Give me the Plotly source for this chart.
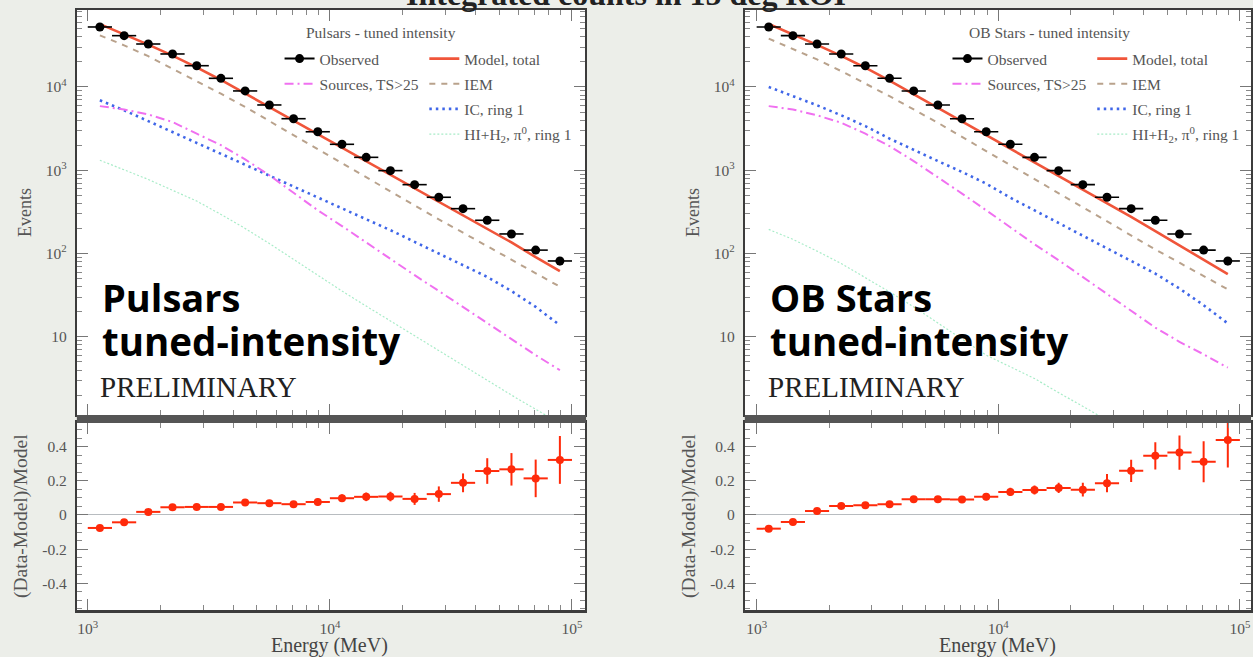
import plotly.graph_objects as go

W, H = 1253, 657

# ---------------- data ----------------
energy_edges = [1000, 1259, 1585, 1995, 2512, 3162, 3981, 5012, 6310, 7943, 10000,
                12589, 15849, 19953, 25119, 31623, 39811, 50119, 63096, 79433, 100000]
energy_mid = [1122, 1413, 1778, 2239, 2818, 3548, 4467, 5623, 7079, 8913, 11220,
              14125, 17783, 22387, 28184, 35481, 44668, 56234, 70795, 89125]

observed = [52500, 41300, 32800, 24900, 18000, 12700, 8960, 6080, 4160, 2900,
            2050, 1430, 990, 672, 474, 346, 251, 172, 110, 81.5]
observed_err = [230, 203, 181, 158, 134, 113, 95, 78, 64, 54,
                45, 38, 31, 26, 22, 19, 16, 13, 10.5, 9]

psr_model = [56800, 43200, 32200, 23800, 17200, 12130, 8350, 5690, 3910, 2695,
             1867, 1293, 894, 614, 422, 291, 200, 136, 90.6, 61.6]
psr_iem = [41700, 31600, 23400, 16600, 11700, 8300, 5750, 3890, 2630, 1780,
           1200, 813, 550, 372, 257, 178, 123, 85, 59, 40]
psr_sources = [5890, 5370, 4680, 3800, 2750, 2000, 1350, 871, 537, 331,
               214, 135, 87.1, 55.0, 35.5, 22.9, 14.8, 9.33, 6.03, 3.98]
psr_ic = [6920, 5250, 3890, 2880, 2140, 1580, 1150, 851, 631, 468,
          347, 257, 191, 138, 100, 72.4, 52.5, 35.5, 22.9, 13.8]
psr_gas = [1320, 1020, 776, 575, 427, 295, 200, 132, 85.1, 55.0,
           35.5, 23.4, 15.5, 10.2, 6.76, 4.47, 2.95, 2.0, 1.35, 0.91]
psr_resid = [-0.076, -0.043, 0.018, 0.045, 0.047, 0.047, 0.073, 0.069, 0.063, 0.076,
             0.098, 0.106, 0.108, 0.094, 0.122, 0.188, 0.257, 0.267, 0.214, 0.322]
psr_resid_err = [0.010, 0.010, 0.011, 0.012, 0.013, 0.014, 0.015, 0.016, 0.018, 0.020,
                 0.022, 0.025, 0.028, 0.035, 0.045, 0.055, 0.075, 0.095, 0.110, 0.140]

ob_model = [57070, 43070, 32060, 23650, 17030, 11950, 8205, 5568, 3817, 2620,
            1806, 1248, 855, 585, 400, 275, 186, 126, 83.9, 56.7]
ob_iem = [38000, 28800, 21400, 15500, 11000, 7760, 5370, 3720, 2510, 1700,
          1150, 776, 525, 355, 240, 166, 112, 77.6, 53.7, 37.2]
ob_sources = [5890, 5370, 4570, 3720, 2750, 1950, 1290, 832, 525, 331,
              204, 129, 83.2, 52.5, 33.1, 20.4, 12.9, 8.71, 6.17, 4.27]
ob_ic = [10000, 7760, 6030, 4570, 3390, 2400, 1740, 1290, 955, 692,
         468, 331, 234, 166, 117, 81.3, 57.5, 38.0, 24.0, 14.5]
ob_gas = [195, 148, 107, 75.9, 51.3, 34.7, 22.9, 14.8, 9.55, 6.03,
          4.37, 3.16, 2.14, 1.45, 1.0, 0.71, 0.50, 0.35, 0.25, 0.18]
ob_resid = [-0.080, -0.041, 0.023, 0.053, 0.057, 0.063, 0.092, 0.092, 0.090, 0.107,
            0.135, 0.146, 0.158, 0.148, 0.186, 0.258, 0.346, 0.365, 0.311, 0.438]
ob_resid_err = [0.010, 0.010, 0.011, 0.012, 0.013, 0.014, 0.015, 0.017, 0.019, 0.021,
                0.024, 0.027, 0.030, 0.040, 0.053, 0.065, 0.080, 0.100, 0.120, 0.160]

panel_titles = ["Pulsars - tuned intensity", "OB Stars - tuned intensity"]
big_labels = ["Pulsars", "OB Stars"]
y_tickvals = [10, 100, 1000, 10000]
y_ticktext = ["10", "10<sup>2</sup>", "10<sup>3</sup>", "10<sup>4</sup>"]
x_tickvals = [1000, 10000, 100000]
x_ticktext = ["10<sup>3</sup>", "10<sup>4</sup>", "10<sup>5</sup>"]
r_tickvals = [-0.4, -0.2, 0, 0.2, 0.4]
r_ticktext = ["-0.4", "-0.2", "0", "0.2", "0.4"]

# ---------------- styling ----------------
SERIF = "Liberation Serif, Times New Roman, serif"
C_MODEL = "#f0553a"
C_IEM = "#b9a28c"
C_SRC = "#f070f0"
C_IC = "#3f66e8"
C_GAS = "#a8ecc8"
C_RES = "#ff2a0a"
FRAME = "#3c3c3c"

xerr_plus = [energy_edges[i + 1] - energy_mid[i] for i in range(len(energy_mid))]
xerr_minus = [energy_mid[i] - energy_edges[i] for i in range(len(energy_mid))]


def px(x):
    return x / W


def py(y):
    return 1 - y / H


fig = go.Figure()

panels = [
    dict(model=psr_model, iem=psr_iem, src=psr_sources, ic=psr_ic, gas=psr_gas,
         res=psr_resid, rerr=psr_resid_err, xa="x", ya="y", xr="x2", yr="y2",
         legs=("legend", "legend2")),
    dict(model=ob_model, iem=ob_iem, src=ob_sources, ic=ob_ic, gas=ob_gas,
         res=ob_resid, rerr=ob_resid_err, xa="x3", ya="y3", xr="x4", yr="y4",
         legs=("legend3", "legend4")),
]

for p in panels:
    la, lb = p["legs"]
    fig.add_trace(go.Scatter(x=energy_mid, y=p["gas"], mode="lines",
                             name="HI+H<sub>2</sub>, \u03c0<sup>0</sup>, ring 1",
                             line=dict(color=C_GAS, width=1.2, dash="2px,2px"),
                             xaxis=p["xa"], yaxis=p["ya"], legend=lb, legendrank=4, legendgroup="g4"))
    fig.add_trace(go.Scatter(x=energy_mid, y=p["ic"], mode="lines", name="IC, ring 1",
                             line=dict(color=C_IC, width=2.6, dash="2.5px,4px"),
                             xaxis=p["xa"], yaxis=p["ya"], legend=lb, legendrank=3, legendgroup="g3"))
    fig.add_trace(go.Scatter(x=energy_mid, y=p["src"], mode="lines", name="Sources, TS>25",
                             line=dict(color=C_SRC, width=2, dash="9px,4px,2px,4px"),
                             xaxis=p["xa"], yaxis=p["ya"], legend=la, legendrank=2, legendgroup="g2"))
    fig.add_trace(go.Scatter(x=energy_mid, y=p["iem"], mode="lines", name="IEM",
                             line=dict(color=C_IEM, width=2, dash="6px,6px"),
                             xaxis=p["xa"], yaxis=p["ya"], legend=lb, legendrank=2, legendgroup="g2"))
    fig.add_trace(go.Scatter(x=energy_mid, y=p["model"], mode="lines", name="Model, total",
                             line=dict(color=C_MODEL, width=2.6),
                             xaxis=p["xa"], yaxis=p["ya"], legend=lb, legendrank=1, legendgroup="g1"))
    fig.add_trace(go.Scatter(x=energy_mid, y=observed, mode="markers", name="Observed",
                             showlegend=False,
                             marker=dict(color="black", size=9),
                             error_x=dict(type="data", array=xerr_plus, arrayminus=xerr_minus,
                                          color="black", thickness=1.6, width=0),
                             error_y=dict(type="data", array=observed_err, color="black",
                                          thickness=1.6, width=0),
                             xaxis=p["xa"], yaxis=p["ya"]))
    # legend proxy for "Observed" (line + marker symbol as in the reference legend)
    fig.add_trace(go.Scatter(x=[None], y=[None], mode="lines+markers", name="Observed",
                             marker=dict(color="black", size=9), line=dict(color="black", width=2),
                             xaxis=p["xa"], yaxis=p["ya"], legend=la, legendrank=1, legendgroup="g1"))
    fig.add_trace(go.Scatter(x=energy_mid, y=p["res"], mode="markers", showlegend=False,
                             marker=dict(color=C_RES, size=8),
                             error_x=dict(type="data", array=xerr_plus, arrayminus=xerr_minus,
                                          color=C_RES, thickness=2, width=0),
                             error_y=dict(type="data", array=p["rerr"], color=C_RES,
                                          thickness=2, width=0),
                             xaxis=p["xr"], yaxis=p["yr"]))

tickfont = dict(family=SERIF, size=15.5, color="#555")


def axis(**kw):
    d = dict(showline=True, linecolor=FRAME, linewidth=2, mirror="ticks",
             ticks="inside", ticklen=11, tickwidth=1.2, tickcolor="#777",
             showgrid=False, zeroline=False, tickfont=tickfont, ticklabelstandoff=5)
    d.update(kw)
    return d


log_minor = dict(ticks="inside", ticklen=5, tickcolor="#888", tickwidth=1, dtick="D1", showgrid=False)

# pixel geometry
left_dom = [px(77), px(586)]
right_dom = [px(746), 1.0]
top_dom = [py(415), py(10)]
res_dom = [py(610), py(423)]
xr_left = [2.955, 5.054]
xr_right = [2.951, 5.046]
yr_top = [0.062, 4.924]
yr_res = [-0.556, 0.538]

for (xa, ya, xr_, yr_, dom) in [("xaxis", "yaxis", "xaxis2", "yaxis2", (left_dom, xr_left)),
                                  ("xaxis3", "yaxis3", "xaxis4", "yaxis4", (right_dom, xr_right))]:
    xd, xrng = dom
    yname = ya.replace("axis", "")
    ryname = yr_.replace("axis", "")
    xname = xa.replace("axis", "")
    rxname = xr_.replace("axis", "")
    fig.update_layout({
        xa: axis(type="log", domain=xd, range=xrng, anchor=yname, tickvals=x_tickvals,
                 showticklabels=False, minor=log_minor),
        ya: axis(type="log", domain=top_dom, range=yr_top, anchor=xname, tickmode="array",
                 tickvals=y_tickvals, ticktext=y_ticktext, minor=log_minor),
        xr_: axis(type="log", domain=xd, range=xrng, anchor=ryname, tickmode="array",
                  tickvals=x_tickvals, ticktext=x_ticktext, minor=log_minor, linewidth=2.5,
                  ticklabelstandoff=3),
        yr_: axis(domain=res_dom, range=yr_res, anchor=rxname, tickmode="array",
                  tickvals=r_tickvals, ticktext=r_ticktext,
                  zeroline=True, zerolinecolor="#b8bcc0", zerolinewidth=1.2,
                  minor=dict(ticks="inside", ticklen=5, tickcolor="#888", dtick=0.05)),
    })

legend_common = dict(font=dict(family=SERIF, size=15.5, color="#555"), bgcolor="rgba(0,0,0,0)",
                     borderwidth=0, xanchor="left", yanchor="top", tracegroupgap=2,
                     itemclick=False, itemdoubleclick=False)
fig.update_layout(
    legend=dict(legend_common, x=px(280), y=py(42)),
    legend2=dict(legend_common, x=px(425), y=py(42)),
    legend3=dict(legend_common, x=px(949), y=py(42)),
    legend4=dict(legend_common, x=px(1094), y=py(42)),
)

# dark bar between the two panels
shapes = []
for x0, x1 in [(77, 587), (746, 1253)]:
    shapes.append(dict(type="rect", xref="paper", yref="paper", x0=px(x0), x1=px(x1),
                       y0=py(423), y1=py(415), fillcolor="#555555", line=dict(width=0), layer="above"))

annotations = []
for off, ptitle, big in [(0, panel_titles[0], big_labels[0]), (669, panel_titles[1], big_labels[1])]:
    annotations += [
        dict(text=ptitle, x=px(382 + off), y=py(32), xref="paper", yref="paper",
             showarrow=False, font=dict(family=SERIF, size=15.5, color="#555"),
             xanchor="center", yanchor="middle"),
        dict(text="<b>" + big + "</b>", x=px(100 + off), y=py(297), xref="paper", yref="paper",
             showarrow=False, font=dict(family="Open Sans", size=38, color="black"),
             xanchor="left", yanchor="middle"),
        dict(text="<b>tuned-intensity</b>", x=px(100 + off), y=py(341), xref="paper", yref="paper",
             showarrow=False, font=dict(family="Open Sans", size=38.5, color="black"),
             xanchor="left", yanchor="middle"),
        dict(text="PRELIMINARY", x=px(98 + off), y=py(387), xref="paper", yref="paper",
             showarrow=False, font=dict(family=SERIF, size=29, color="#222"),
             xanchor="left", yanchor="middle"),
        dict(text="Events", x=px(25 + off), y=py(212), xref="paper", yref="paper",
             showarrow=False, textangle=-90, font=dict(family=SERIF, size=18, color="#555"),
             xanchor="center", yanchor="middle"),
        dict(text="(Data-Model)/Model", x=px(21 + off), y=py(516), xref="paper", yref="paper",
             showarrow=False, textangle=-90, font=dict(family=SERIF, size=19.5, color="#555"),
             xanchor="center", yanchor="middle"),
        dict(text="Energy (MeV)", x=px(330 + off), y=py(645), xref="paper", yref="paper",
             showarrow=False, font=dict(family=SERIF, size=20, color="#444"),
             xanchor="center", yanchor="middle"),
    ]

annotations.append(dict(text="<b>Integrated counts in 15 deg ROI</b>", x=px(627), y=py(14),
                        xref="paper", yref="paper", showarrow=False,
                        font=dict(family=SERIF, size=32, color="#222"),
                        xanchor="center", yanchor="bottom"))

fig.update_layout(
    width=W, height=H, margin=dict(l=0, r=0, t=0, b=0),
    paper_bgcolor="#eceee9", plot_bgcolor="white",
    shapes=shapes, annotations=annotations,
)

fig.write_html("out.html")
